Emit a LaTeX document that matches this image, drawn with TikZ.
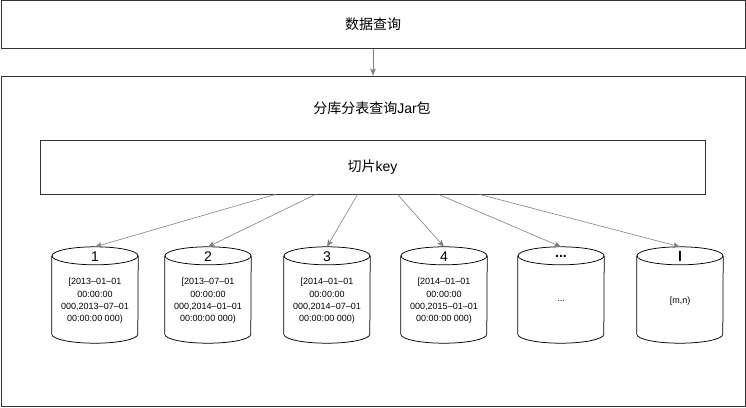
\documentclass[tikz,border=0pt]{standalone}
\usepackage{fontspec}
\setmainfont{Liberation Sans}
\newfontfamily\cjk{Noto Sans CJK SC}
\usetikzlibrary{arrows.meta,positioning}

\begin{document}
\begin{tikzpicture}[x=1pt,y=-1pt,>={Stealth[length=7pt,width=5.5pt,inset=1.5pt]},
		box/.style={rectangle,draw=black!80,line width=0.8pt,font=\fontsize{14}{16}\selectfont},
		db node/.style={rectangle,minimum width=86pt,minimum height=96pt,inner sep=0pt},
		db line/.style={draw=black,line width=0.75pt},
		num/.style={font=\fontsize{14}{16}\selectfont},
		span text/.style={align=center,font=\fontsize{9}{12.3}\selectfont},
		link/.style={->,draw=black!50,line width=0.6pt}]
		
		\useasboundingbox (0,0) rectangle (746,407);
		
		\node[box,minimum width=744pt,minimum height=48pt] (query) at (373,24.5) {\cjk 数据查询};
		\node[box,minimum width=744pt,minimum height=330pt] (jar) at (373,241) {};
		\node[font=\fontsize{14}{16}\selectfont] (jartitle) at (372,108) {{\cjk 分库分表查询}Jar{\cjk 包}};
		\node[box,minimum width=665pt,minimum height=54pt] (key) at (372.5,167) {{\cjk 切片}key};
		
		\node[db node] (d1) at (95,295) {};
		\node[db node] (d2) at (208,295) {};
		\node[db node] (d3) at (327,295) {};
		\node[db node] (d4) at (444,295) {};
		\node[db node] (d5) at (561,295) {};
		\node[db node] (d6) at (680,295) {};
		
		% cylinder outlines
		\foreach \d in {d1,d2,d3,d4,d5,d6}{
			\draw[db line] ([yshift=-9pt]\d.north) ellipse [x radius=43pt,y radius=9pt];
			\draw[db line] ([yshift=-9pt]\d.north west) -- ([yshift=9pt]\d.south west)
				arc[start angle=180,end angle=360,x radius=43pt,y radius=9pt] -- ([yshift=-9pt]\d.north east);
		}
		
		\node[num] (n1) at ([yshift=-10pt]d1.north) {1};
		\node[num] (n2) at ([yshift=-10pt]d2.north) {2};
		\node[num] (n3) at ([yshift=-10pt]d3.north) {3};
		\node[num] (n4) at ([yshift=-10pt]d4.north) {4};
		\node[num] (n5) at ([yshift=-10pt]d5.north) {\textbf{...}};
		\node[num] (n6) at ([yshift=-10pt]d6.north) {\textbf{l}};
		
		\node[span text] (r1) at ([yshift=-6pt]d1.center) {[2013–01–01\\00:00:00\\000,2013–07–01\\00:00:00 000)};
		\node[span text] (r2) at ([yshift=-6pt]d2.center) {[2013–07–01\\00:00:00\\000,2014–01–01\\00:00:00 000)};
		\node[span text] (r3) at ([yshift=-6pt]d3.center) {[2014–01–01\\00:00:00\\000,2014–07–01\\00:00:00 000)};
		\node[span text] (r4) at ([yshift=-6pt]d4.center) {[2014–01–01\\00:00:00\\000,2015–01–01\\00:00:00 000)};
		\node[span text] (r5) at ([yshift=-6pt]d5.center) {...};
		\node[span text] (r6) at ([yshift=-6pt]d6.center) {[m,n)};
		
		\path
		(query) edge[link] (jar.north)
		([xshift=-97pt]key.south) edge[link] (d1.north)
		([xshift=-57pt]key.south) edge[link] (d2.north)
		([xshift=-15pt]key.south) edge[link] (d3.north)
		([xshift=25pt]key.south) edge[link] (d4.north)
		([xshift=66pt]key.south) edge[link] (d5.north)
		([xshift=107pt]key.south) edge[link] (d6.north);
		
\end{tikzpicture}
\end{document}
